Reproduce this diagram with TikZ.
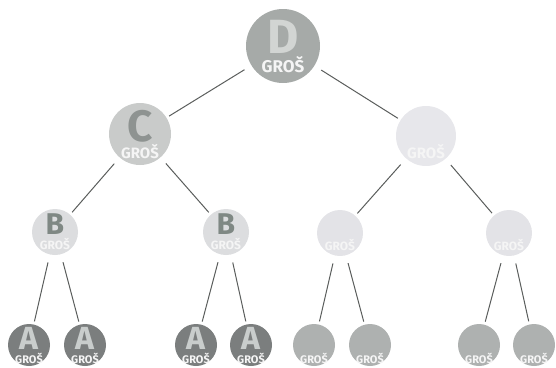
\documentclass[tikz,border=0pt]{standalone}
\usepackage{fontspec}
\setmainfont{Fira Sans}
\definecolor{linkgray}{HTML}{5A5D5C}
\definecolor{dfill}{HTML}{A6AAA8}
\definecolor{dtext}{HTML}{D2D5D3}
\definecolor{cfill}{HTML}{C9CBCA}
\definecolor{ctext}{HTML}{8E9391}
\definecolor{rfill}{HTML}{E7E7EB}
\definecolor{bfill}{HTML}{DCDDDF}
\definecolor{btext}{HTML}{7F8884}
\definecolor{sfill}{HTML}{E3E3E7}
\definecolor{afill}{HTML}{7B7E7E}
\definecolor{atext}{HTML}{C9CDCC}
\definecolor{efill}{HTML}{AEB1B0}
\definecolor{groswhite}{HTML}{F5F5F5}
\begin{document}
\begin{tikzpicture}[x=1pt,y=-1pt,
  coin/.style={circle,inner sep=0pt,draw=none},
  letter/.style={anchor=base,inner sep=0pt,font=\bfseries\fontsize{#1}{#1}\selectfont},
  gros/.style={anchor=base,inner sep=0pt,text=groswhite,font=\bfseries\fontsize{#1}{#1}\selectfont},
  link/.style={linkgray,line width=1pt,shorten <=8pt,shorten >=3pt}]
\useasboundingbox (0,0) rectangle (556,367);
% top coin
\node[coin,minimum size=74pt,fill=dfill] (d) at (283,46) {};
\node[letter=48,text=dtext] (dl) at ([yshift=-7pt]d.center) {D};
\node[gros=17] (dg) at ([yshift=-26pt]d.center) {GROŠ};
% level 1
\node[coin,minimum size=62pt,fill=cfill] (c) at (140,134) {};
\node[letter=44,text=ctext] (cl) at ([yshift=-7pt]c.center) {C};
\node[gros=15] (cg) at ([yshift=-24pt]c.center) {GROŠ};
\node[coin,minimum size=60pt,fill=rfill] (r) at (426,136) {};
\node[gros=15] (rg) at ([yshift=-22pt]r.center) {GROŠ};
% level 2
\node[coin,minimum size=46pt,fill=bfill] (b1) at (55,232) {};
\node[letter=30,text=btext] (b1l) at ([yshift=-2pt]b1.center) {B};
\node[gros=12] (b1g) at ([yshift=-17pt]b1.center) {GROŠ};
\node[coin,minimum size=46pt,fill=bfill] (b2) at (226,232) {};
\node[letter=30,text=btext] (b2l) at ([yshift=-2pt]b2.center) {B};
\node[gros=12] (b2g) at ([yshift=-17pt]b2.center) {GROŠ};
\node[coin,minimum size=46pt,fill=sfill] (s1) at (340,233) {};
\node[gros=12] (s1g) at ([yshift=-17pt]s1.center) {GROŠ};
\node[coin,minimum size=46pt,fill=sfill] (s2) at (509,233) {};
\node[gros=12] (s2g) at ([yshift=-17pt]s2.center) {GROŠ};
% bottom row
\foreach \n/\x in {a1/29,a2/85,a3/196,a4/251} {
  \node[coin,minimum size=42pt,fill=afill] (\n) at (\x,345) {};
  \node[letter=32,text=atext] (\n l) at ([yshift=-4pt]\n.center) {A};
  \node[gros=11] (\n g) at ([yshift=-18pt]\n.center) {GROŠ};
}
\foreach \n/\x in {e1/314,e2/370,e3/479,e4/534} {
  \node[coin,minimum size=42pt,fill=efill] (\n) at (\x,345) {};
  \node[gros=11] (\n g) at ([yshift=-18pt]\n.center) {GROŠ};
}
% links
\draw[link] (d) -- (c);
\draw[link] (d) -- (r);
\draw[link] (c) -- (b1);
\draw[link] (c) -- (b2);
\draw[link] (r) -- (s1);
\draw[link] (r) -- (s2);
\draw[link] (b1) -- (a1);
\draw[link] (b1) -- (a2);
\draw[link] (b2) -- (a3);
\draw[link] (b2) -- (a4);
\draw[link] (s1) -- (e1);
\draw[link] (s1) -- (e2);
\draw[link] (s2) -- (e3);
\draw[link] (s2) -- (e4);
\end{tikzpicture}
\end{document}
